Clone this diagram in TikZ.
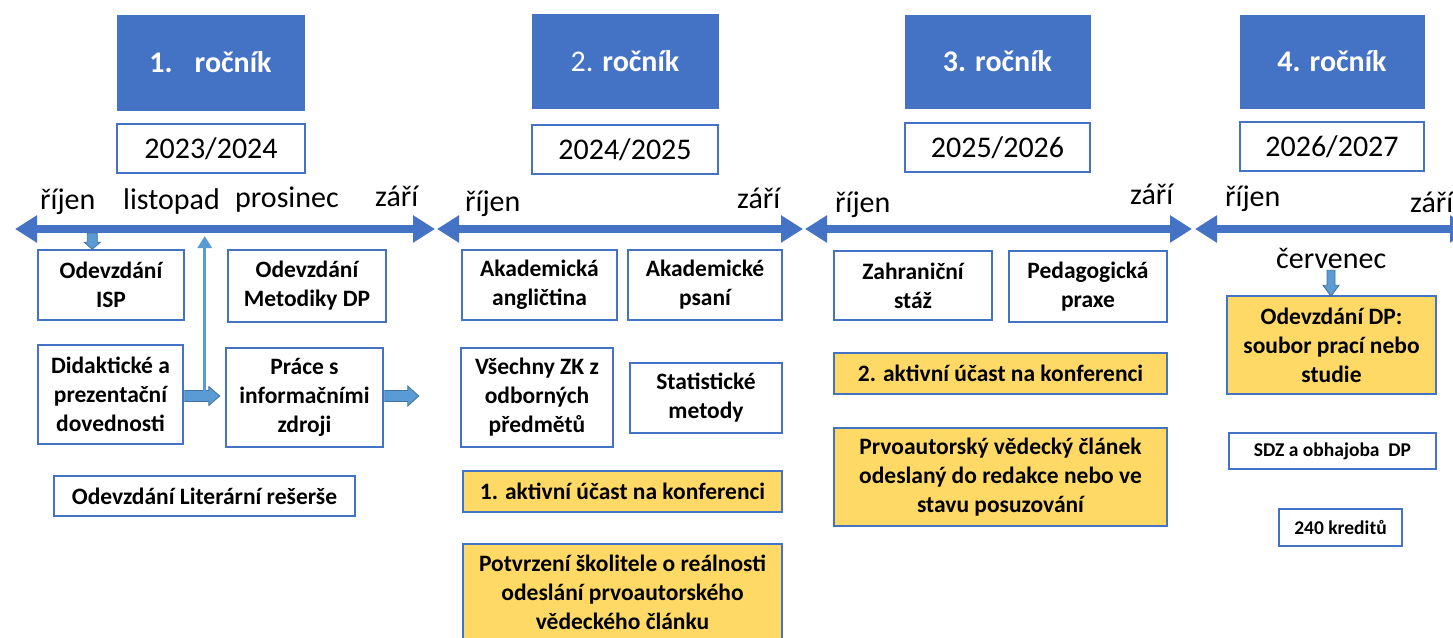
\documentclass[tikz,border=0pt]{standalone}
\usepackage{fontspec}
\setmainfont{Carlito}
\usetikzlibrary{arrows.meta,calc}
\definecolor{hblue}{HTML}{4472C4}
\definecolor{lblue}{HTML}{5B9BD5}
\definecolor{dblue}{HTML}{41719C}
\definecolor{gold}{HTML}{FFD966}
\tikzset{
  box/.style={draw=hblue, line width=1.5pt, fill=white, align=center, inner sep=0pt,
    font=\fontsize{23.5}{29}\selectfont\bfseries},
  goldbox/.style={box, fill=gold},
  smallbox/.style={box, font=\fontsize{19.5}{24}\selectfont\bfseries},
  headbox/.style={fill=hblue, draw=hblue, text=white, inner sep=0pt,
    font=\fontsize{30}{36}\selectfont\bfseries},
  yearbox/.style={draw=hblue, line width=1.3pt, fill=white, inner sep=0pt,
    font=\fontsize{30}{36}\selectfont},
  month/.style={anchor=base west, inner sep=0pt, font=\fontsize{30}{36}\selectfont},
  tline/.style={draw=hblue, line width=8pt,
    {Triangle[length=22pt,width=26pt]}-{Triangle[length=22pt,width=26pt]}},
  blk/.style={fill=lblue, draw=dblue, line width=0.8pt},
  upline/.style={draw=lblue, line width=3pt, -{Triangle[length=12pt,width=14pt]}},
}
% block arrow pointing down, tip at #1: total length #2, shaft half width #3, head half width #4, head length #5
\newcommand\blkdown[5]{%
  \path[blk] ($(#1)+(-#3,-#2)$) -- ($(#1)+(#3,-#2)$) -- ($(#1)+(#3,-#5)$) -- ($(#1)+(#4,-#5)$)
   -- (#1) -- ($(#1)+(-#4,-#5)$) -- ($(#1)+(-#3,-#5)$) -- cycle;}
% block arrow pointing right
\newcommand\blkright[5]{%
  \path[blk] ($(#1)+(-#2,-#3)$) -- ($(#1)+(-#5,-#3)$) -- ($(#1)+(-#5,-#4)$) -- (#1)
   -- ($(#1)+(-#5,#4)$) -- ($(#1)+(-#5,#3)$) -- ($(#1)+(-#2,#3)$) -- cycle;}
\begin{document}
\begin{tikzpicture}[x=1pt,y=-1pt]
\useasboundingbox (0,0) rectangle (1453,637);
\clip (0,0) rectangle (1453,637);
\fill[white] (0,0) rectangle (1453,637);

% headers
\node[headbox, minimum width=187pt, minimum height=95pt] (h1) at (210.5,62.5) {1.\hspace{22pt}ročník};
\node[headbox, minimum width=186pt, minimum height=94pt] (h2) at (625,61) {{\mdseries 2.} ročník};
\node[headbox, minimum width=185pt, minimum height=93pt] (h3) at (997.5,61.5) {3. ročník};
\node[headbox, minimum width=184pt, minimum height=93pt] (h4) at (1332,61.5) {4. ročník};

% years
\node[yearbox, minimum width=188pt, minimum height=49pt] (y1) at (211,148.5) {2023/2024};
\node[yearbox, minimum width=186pt, minimum height=49pt] (y2) at (625,149.5) {2024/2025};
\node[yearbox, minimum width=185pt, minimum height=49pt] (y3) at (997.5,147.5) {2025/2026};
\node[yearbox, minimum width=184pt, minimum height=49pt] (y4) at (1332,146.5) {2026/2027};

% timeline
\coordinate (t1) at (15,229);
\coordinate (t2) at (435,229);
\coordinate (t3) at (437,229);
\coordinate (t4) at (803,229);
\coordinate (t5) at (805,229);
\coordinate (t6) at (1192,229);
\coordinate (t7) at (1195,229);
\coordinate (t8) at (1472,229);
\draw[tline] (t1) -- (t2);
\draw[tline] (t3) -- (t4);
\draw[tline] (t5) -- (t6);
\draw[tline] (t7) -- (t8);

% months
\node[month] (m1) at (40,209) {říjen};
\node[month] (m2) at (123,209) {listopad};
\node[month] (m3) at (235,207) {prosinec};
\node[month] (m4) at (375,206) {září};
\node[month] (m5) at (465,211) {říjen};
\node[month] (m6) at (737,208) {září};
\node[month] (m7) at (835,212) {říjen};
\node[month] (m8) at (1130,204) {září};
\node[month] (m9) at (1225,206) {říjen};
\node[month] (m10) at (1410,212) {září};
\node[month] (m11) at (1276,268) {červenec};

% year 1
\node[box, minimum width=146pt, minimum height=70pt] (isp) at (111,285) {Odevzdání\\ISP};
\node[box, minimum width=158pt, minimum height=72pt] (met) at (307,286) {Odevzdání\\Metodiky DP};
\node[box, minimum width=145pt, minimum height=99pt] (did) at (110.5,394.5) {Didaktické a\\prezentační\\dovednosti};
\node[box, minimum width=157pt, minimum height=99pt] (pra) at (304.5,397.5) {Práce s\\informačními\\zdroji};
\node[box, minimum width=301pt, minimum height=40pt] (lit) at (204.5,496) {Odevzdání Literární rešerše};

% year 2
\node[box, minimum width=155pt, minimum height=70pt] (ang) at (539.5,285) {Akademická\\angličtina};
\node[box, minimum width=154pt, minimum height=70pt] (psa) at (705,285) {Akademické\\psaní};
\node[box, minimum width=152pt, minimum height=99pt] (zk) at (537,397.5) {Všechny ZK z\\odborných\\předmětů};
\node[box, minimum width=152pt, minimum height=70pt] (sta) at (706,398) {Statistické\\metody};
\node[goldbox, minimum width=319pt, minimum height=41pt] (k1) at (622.5,491.5) {1. aktivní účast na konferenci};
\node[goldbox, minimum width=319pt, minimum height=96pt] (pot) at (622.5,592) {Potvrzení školitele o reálnosti\\odeslání prvoautorského\\vědeckého článku};

% year 3
\node[box, minimum width=158pt, minimum height=69pt] (zah) at (913,285.5) {Zahraniční\\stáž};
\node[box, minimum width=158pt, minimum height=71pt] (ped) at (1088,286.5) {Pedagogická\\praxe};
\node[goldbox, minimum width=333pt, minimum height=41pt] (k2) at (1000.5,373.5) {2. aktivní účast na konferenci};
\node[goldbox, minimum width=333pt, minimum height=98pt] (prv) at (1000.5,477) {Prvoautorský vědecký článek\\odeslaný do redakce nebo ve\\stavu posuzování};

% year 4
\node[goldbox, minimum width=209pt, minimum height=98pt] (odp) at (1331.5,345) {Odevzdání DP:\\soubor prací nebo\\studie};
\node[smallbox, minimum width=207pt, minimum height=36pt] (sdz) at (1332.5,451) {SDZ a obhajoba\ \ DP};
\node[smallbox, minimum width=123pt, minimum height=37pt] (kr) at (1340.5,527.5) {240 kreditů};

% connectors
\coordinate (ispTip) at ($(isp.north west)+(55,0)$);
\blkdown{ispTip}{16}{5}{8}{7}
\coordinate (odpTip) at ($(odp.north)+(-0.5,1)$);
\blkdown{odpTip}{26}{4}{8}{11}
\coordinate (didTip) at ($(did.east)+(36,1.5)$);
\blkright{didTip}{35}{5.5}{9.5}{11}
\coordinate (praTip) at ($(pra.east)+(35,-1.5)$);
\blkright{praTip}{34}{5.5}{10}{11}
\coordinate (upStart) at ($(didTip)+(-15,-5)$);
\coordinate (upEnd) at (upStart |- 0,236);
\draw[upline] (upStart) -- (upEnd);
\end{tikzpicture}
\end{document}
